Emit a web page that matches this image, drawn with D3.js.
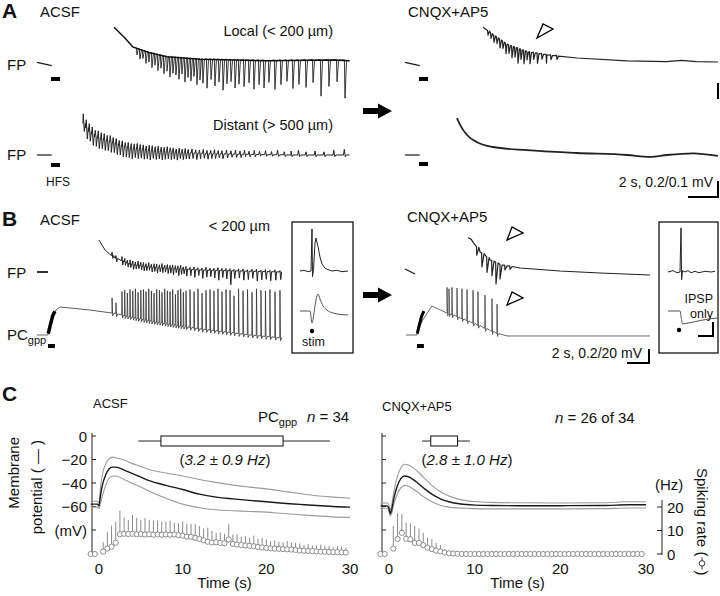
<!DOCTYPE html>
<html>
<head>
<meta charset="utf-8">
<script src="https://cdn.jsdelivr.net/npm/d3@7"></script>
<style>
  body { margin: 0; background: #fff; }
  svg text { font-family: "Liberation Sans", Arial, sans-serif; fill: #111; }
</style>
</head>
<body>
<div id="fig"></div>
<script>
// ---------- panel A : field potentials (s from HFS onset, mV re pre-HFS baseline)
var hfsDur = 0.6;
var preLocal = [[-0.93, 0.02], [0.05, -0.02]];
var preDistant = [[-0.93, 0.0], [0.05, 0.0]];

var localAcsfBase = [[4.2, 0.46], [4.93, 0.325], [5.47, 0.21], [6.6, 0.14], [7.73, 0.09], [9.93, 0.06], [14.4, 0.04], [18.8, 0.05], [19.9, 0.04]];
var localAcsfT = [5.73, 5.93, 6.13, 6.33, 6.53, 6.73, 6.93, 7.13, 7.33, 7.53, 7.73, 7.93, 8.13, 8.33, 8.53, 8.73, 8.93, 9.13, 9.33, 9.53, 9.73, 9.93, 10.13, 10.4, 10.67, 10.93, 11.2, 11.47, 11.73, 12.0, 12.27, 12.53, 12.87, 13.2, 13.53, 13.87, 14.2, 14.53, 14.93, 15.33, 15.73, 16.13, 16.53, 17.0, 17.47, 18.0, 18.53, 19.07, 19.6];
var localAcsfAmp = [0.08, 0.12, 0.1, 0.15, 0.12, 0.18, 0.14, 0.2, 0.16, 0.22, 0.18, 0.25, 0.2, 0.22, 0.27, 0.2, 0.3, 0.24, 0.28, 0.22, 0.32, 0.26, 0.3, 0.36, 0.25, 0.33, 0.28, 0.38, 0.3, 0.27, 0.35, 0.3, 0.33, 0.28, 0.36, 0.3, 0.34, 0.27, 0.36, 0.3, 0.26, 0.35, 0.3, 0.34, 0.28, 0.45, 0.33, 0.27, 0.47];

var distAcsfBase = [[2.13, 0.2], [2.5, 0.15], [3, 0.11], [4, 0.08], [5, 0.045], [6.5, 0.03], [8, 0.02], [10, 0.01], [13, 0.004], [16, 0.0], [19.9, 0.0]];
var distAcsfT = [2.15, 2.35, 2.55, 2.75, 2.95, 3.15, 3.35, 3.55, 3.75, 3.95, 4.15, 4.35, 4.55, 4.75, 4.95, 5.15, 5.35, 5.55, 5.75, 5.95, 6.15, 6.35, 6.55, 6.75, 6.95, 7.15, 7.35, 7.55, 7.75, 7.95, 8.15, 8.35, 8.55, 8.75, 8.95, 9.15, 9.4, 9.65, 9.9, 10.15, 10.4, 10.65, 10.9, 11.15, 11.4, 11.7, 12.0, 12.3, 12.6, 12.9, 13.2, 13.55, 13.9, 14.3, 14.7, 15.1, 15.55, 16.0, 16.5, 17.0, 17.6, 18.2, 18.85, 19.55];
var distAcsfUp = [0.06, 0.05, 0.05, 0.045, 0.04, 0.045, 0.04, 0.04, 0.035, 0.04, 0.035, 0.035, 0.03, 0.035, 0.03, 0.035, 0.03, 0.03, 0.035, 0.03, 0.03, 0.025, 0.03, 0.03, 0.025, 0.03, 0.025, 0.025, 0.03, 0.025, 0.025, 0.02, 0.025, 0.02, 0.025, 0.02, 0.025, 0.02, 0.02, 0.025, 0.02, 0.02, 0.025, 0.02, 0.02, 0.025, 0.02, 0.025, 0.02, 0.025, 0.02, 0.025, 0.02, 0.025, 0.02, 0.03, 0.02, 0.025, 0.03, 0.02, 0.025, 0.02, 0.03, 0.035];
var distAcsfDown = [0.05, 0.07, 0.06, 0.07, 0.06, 0.065, 0.06, 0.065, 0.06, 0.065, 0.06, 0.065, 0.06, 0.065, 0.06, 0.06, 0.065, 0.055, 0.06, 0.055, 0.06, 0.055, 0.06, 0.05, 0.055, 0.05, 0.055, 0.05, 0.045, 0.05, 0.045, 0.05, 0.04, 0.045, 0.04, 0.04, 0.035, 0.04, 0.035, 0.03, 0.035, 0.03, 0.03, 0.025, 0.03, 0.025, 0.02, 0.02, 0.02, 0.015, 0.015, 0.015, 0.01, 0.01, 0.01, 0.01, 0.01, 0.01, 0.01, 0.01, 0.01, 0.01, 0.01, 0.01];

var localCnqxBase = [[4.27, 0.46], [4.93, 0.36], [5.87, 0.24], [7.2, 0.15], [8.53, 0.11], [10.53, 0.075], [13.87, 0.04], [16.5, 0.03], [17.5, 0.045], [18.5, 0.03], [19.93, 0.025]];
var localCnqxT = [4.6, 4.8, 5.0, 5.2, 5.4, 5.6, 5.8, 6.0, 6.2, 6.4, 6.6, 6.8, 7.0, 7.2, 7.4, 7.65, 7.9, 8.2, 8.5, 8.8, 9.2];
var localCnqxAmp = [0.05, 0.06, 0.08, 0.07, 0.1, 0.08, 0.12, 0.1, 0.14, 0.12, 0.18, 0.12, 0.16, 0.1, 0.14, 0.08, 0.12, 0.06, 0.1, 0.05, 0.04];

var distCnqxBase = [[2.53, 0.23], [2.73, 0.19], [3.2, 0.125], [3.87, 0.08], [4.93, 0.05], [7.2, 0.03], [10.53, 0.0125], [13.87, 0.0], [15.4, -0.012], [16.53, 0.0], [18.27, 0.01], [19.93, -0.006]];

// ---------- panel B : FP (mV) and PCgpp (mV), s from HFS onset
var preFpB = [[-0.96, 0.0], [0.0, 0.0]];
var preFpBCnqx = [[-1.04, 0.043], [-0.17, -0.029]];
var prePc = [[-0.96, -60], [0.0, -60]];

var fpAcsfBase = [[4.43, 0.457], [4.96, 0.314], [5.83, 0.2], [7.13, 0.114], [8.87, 0.071], [13.22, 0.029], [20.35, 0.0]];
var pcAcsfBase = [[0.0, -60], [0.35, -35.7], [0.7, -24.3], [1.04, -20], [1.9, -21.4], [3.65, -24.3], [5.57, -28.6], [8.87, -40], [13.2, -51.4], [17.6, -60], [20.35, -64.3]];
var hfsBlob = [[0.02, -58], [0.2, -46], [0.4, -33], [0.6, -26]];
var pcAcsfT = [5.57, 5.91, 6.43, 6.67, 6.9, 7.13, 7.37, 7.6, 7.83, 8.07, 8.3, 8.52, 8.76, 8.99, 9.22, 9.45, 9.69, 9.91, 10.15, 10.38, 10.61, 10.84, 11.08, 11.3, 11.54, 11.77, 12.0, 12.35, 12.7, 13.04, 13.39, 13.74, 14.09, 14.43, 14.78, 15.13, 15.48, 15.83, 16.17, 16.57, 16.96, 17.35, 17.74, 18.13, 18.52, 18.91, 19.3, 19.74, 20.17];
var pcAcsfPeak = [-7, -14, 2, 4, 0, 5, 3, 6, 1, 4, 5, 2, 6, 3, 0, 5, 4, 1, 6, 3, 2, 5, -2, 4, 6, 1, 3, 5, 2, 6, 0, 4, 5, 3, 6, 2, 5, 4, -4, 6, 3, 5, 1, 6, 4, 3, 5, 2, 4];
var fpAcsfUp = [0.05, 0.04, 0.06, 0.05, 0.04, 0.06, 0.05, 0.04, 0.06, 0.05, 0.05, 0.04, 0.06, 0.04, 0.05, 0.05, 0.04, 0.06, 0.04, 0.05, 0.04, 0.05, 0.04, 0.04, 0.05, 0.03, 0.04, 0.03, 0.04, 0.03, 0.03, 0.04, 0.03, 0.03, 0.04, 0.03, 0.03, 0.03, 0.02, 0.03, 0.03, 0.02, 0.03, 0.03, 0.02, 0.03, 0.02, 0.03, 0.02];
var fpAcsfDown = [0.04, 0.05, 0.06, 0.05, 0.06, 0.05, 0.07, 0.06, 0.05, 0.06, 0.07, 0.06, 0.05, 0.07, 0.06, 0.08, 0.06, 0.07, 0.06, 0.08, 0.07, 0.09, 0.06, 0.1, 0.08, 0.07, 0.1, 0.09, 0.11, 0.08, 0.12, 0.1, 0.09, 0.11, 0.14, 0.1, 0.12, 0.2, 0.11, 0.1, 0.13, 0.12, 0.1, 0.14, 0.12, 0.11, 0.13, 0.12, 0.11];

var fpCnqxBase = [[4.43, 0.49], [4.7, 0.47], [4.9, 0.42], [5.48, 0.286], [6.35, 0.171], [7.22, 0.1], [8.96, 0.057], [12.43, 0.014], [15.91, -0.014], [20.26, -0.043]];
var fpCnqxT = [5.2, 5.65, 6.09, 6.52, 6.87, 7.22, 7.65, 8.09];
var fpCnqxAmp = [0.11, 0.19, 0.21, 0.21, 0.3, 0.2, 0.06, 0.04];
var pcCnqxBase = [[0.0, -60], [0.26, -45.7], [0.61, -35.7], [1.3, -18.6], [2.61, -28.6], [3.74, -35.7], [5.22, -45.7], [6.61, -55.7], [7.04, -58.6], [7.83, -61.4], [20.26, -61.4]];
var pcCnqxT = [2.61, 2.78, 3.04, 3.48, 3.91, 4.35, 4.87, 5.3, 5.91, 6.52, 6.96];
var pcCnqxPeak = [8, 6, 8, 7, 6, 5, 4, 2, -3, -8, -16];

// insets (ms from stim)
var insFpAcsf = [[-12, 0.0], [-8, 0.01], [-4, -0.01], [-1, 0.0], [0, 0.6], [0.5, -0.08], [1.5, 0.02], [3, 0.4], [4, 0.47], [6, 0.35], [8, 0.2], [10, 0.1], [13, 0.04], [16, 0.02], [20, 0.0], [25, 0.01], [30, -0.01], [36, 0.0]];
var insPcAcsf = [[-12, 0], [-2, 0], [0, -7], [1, -5], [3, 3], [5, 9], [6, 10], [8, 7], [11, 3], [15, 0.5], [20, -1], [28, -2], [36, -2.3]];
var insFpCnqx = [[-13, 0], [-8, 0.02], [-4, -0.01], [-1, 0], [0, 0.63], [0.6, -0.11], [1.5, 0.02], [4, 0.0], [7, 0.02], [10, -0.01], [14, 0.01], [18, -0.01], [24, 0.01], [30, 0], [34, 0.01]];
var insPcCnqx = [[-13, 0], [-1, 0], [0.5, -5], [1.5, -7.6], [4, -7.4], [10, -6.8], [20, -5.5], [30, -4.5], [36, -4.1]];

// ---------- panel C : averages (n = 34 / 26)
var cTimeAcsf = [-1, -0.2, 0, 0.15, 0.4, 0.8, 1.2, 1.6, 2.0, 3, 4, 5, 6, 8, 10, 12, 14, 16, 18, 20, 22, 24, 26, 28, 30];
var cMeanAcsf = [-58, -58, -59.5, -52, -42, -33, -28, -26.5, -26.5, -29, -32, -35, -38, -42, -45.5, -49.5, -52, -53.5, -54.8, -56, -57.2, -58.2, -59.2, -60, -60.5];
var cUpAcsf = [-55.5, -55.5, -57, -46, -33, -24, -19.5, -18, -18.5, -20.5, -23.5, -26, -28.5, -31.5, -34, -37, -39.5, -41.8, -43.5, -45, -47, -49, -50.8, -52, -53];
var cLoAcsf = [-60.5, -60.5, -62, -58, -51, -42, -36, -34, -34, -37, -40.5, -43.5, -47, -53, -58, -61, -62.8, -63.6, -64.2, -64.8, -66, -67, -68, -68.8, -69.3];

var cTimeCnqx = [-1, -0.2, 0, 0.15, 0.3, 0.6, 1.0, 1.4, 1.8, 2.2, 3, 4, 5, 6, 7, 8, 9, 10, 12, 15, 20, 25, 28, 30];
var cMeanCnqx = [-59.5, -59.5, -62, -66, -63, -52, -42, -36, -34, -34.5, -38, -44, -49.5, -53.5, -56, -57.5, -58.3, -58.8, -59.2, -59.3, -59.3, -59.2, -58.5, -58.5];
var cUpCnqx = [-57, -57, -59, -63, -59, -46, -34, -27, -24, -24.5, -28, -35, -42, -47.5, -51, -53.5, -55, -55.8, -56.5, -56.8, -57, -56.8, -56, -56];
var cLoCnqx = [-61.5, -61.5, -64, -68, -66, -57, -49, -44, -42, -42.5, -46, -51.5, -56, -59, -60.5, -61.2, -61.5, -61.8, -62, -62, -62, -61.8, -61.3, -61.3];

var rateBins = [-1, -0.5, 0.5, 1, 1.5, 2, 2.5, 3, 3.5, 4, 4.5, 5, 5.5, 6, 6.5, 7, 7.5, 8, 8.5, 9, 9.5, 10, 10.5, 11, 11.5, 12, 12.5, 13, 13.5, 14, 14.5, 15, 15.5, 16, 16.5, 17, 17.5, 18, 18.5, 19, 19.5, 20, 20.5, 21, 21.5, 22, 22.5, 23, 23.5, 24, 24.5, 25, 25.5, 26, 26.5, 27, 27.5, 28, 28.5, 29, 29.5];
var rateAcsf = [0, 0, 1.0, 2.3, 3.1, 4.8, 8.4, 8.6, 8.5, 8.6, 8.4, 8.5, 8.3, 8.4, 8.2, 8.3, 8.2, 8.3, 8.2, 8.3, 8.0, 7.8, 7.4, 7.3, 6.9, 6.4, 5.8, 5.2, 4.9, 5.0, 4.7, 4.6, 6.2, 4.3, 4.0, 3.8, 3.6, 3.5, 3.3, 3.0, 2.8, 2.6, 2.4, 2.3, 2.2, 2.1, 2.0, 1.9, 1.7, 1.5, 1.4, 1.3, 1.2, 1.1, 1.0, 1.0, 0.9, 0.8, 0.8, 0.7, 0.6];
var sdAcsf = [0, 0, 4, 7, 9, 9, 10, 7, 6, 8, 7, 6, 7, 6, 6, 6, 5.5, 5.5, 6, 5, 5, 6, 5.5, 5.5, 6, 5.5, 5, 6, 5, 4, 4.5, 4, 6.5, 4, 4.5, 3.5, 4, 3.5, 4.5, 3.5, 4, 3.5, 3, 3.5, 3, 3, 3.5, 3, 3, 3, 2.5, 3, 2.5, 2.5, 3, 2.5, 2.5, 2, 2.5, 2.5, 2];
var rateCnqx = [0, 0, 2.3, 6.4, 9.0, 6.5, 6.3, 4.7, 4.7, 3.8, 2.7, 2.1, 1.4, 1.1, 0.6, 0.3, 0.2, 0.1, 0, 0, 0, 0, 0, 0, 0, 0, 0, 0, 0, 0, 0, 0, 0, 0, 0, 0, 0, 0, 0, 0, 0, 0, 0, 0, 0, 0, 0, 0, 0, 0, 0, 0, 0, 0, 0, 0, 0, 0, 0, 0, 0];
var sdCnqx = [0, 0, 9.7, 11, 8, 6.8, 6.7, 7.3, 6.2, 5.2, 4.2, 4.3, 3.3, 2.7, 1.4, 1.1, 0.5, 0.3, 0, 0, 0, 0, 0, 0, 0, 0, 0, 0, 0, 0, 0, 0, 0, 0, 0, 0, 0, 0, 0, 0, 0, 0, 0, 0, 0, 0, 0, 0, 0, 0, 0, 0, 0, 0, 0, 0, 0, 0, 0, 0, 0];

// spiking-frequency box plots: [whisker lo, q1, q3, whisker hi] in s
var boxAcsf = [4.7, 7.4, 22.0, 27.6];
var boxCnqx = [3.85, 4.87, 8.0, 9.45];
var mvTicks = [0, -20, -40, -60];
var hzTicks = [0, 10, 20];
var timeTicks = [0, 10, 20, 30];

// ================= drawing =================
var W = 720, H = 596;
var svg = d3.select("#fig").append("svg").attr("width", W).attr("height", H);
svg.append("rect").attr("width", W).attr("height", H).attr("fill", "#fff");

function baseAt(base) {
	return d3.scaleLinear().domain(base.map(function(d) { return d[0]; }))
		.range(base.map(function(d) { return d[1]; })).clamp(true);
}
// merge baseline points with event shapes, sorted in time
function buildTrace(base, events, shape) {
	var f = baseAt(base), pts = base.slice();
	events.forEach(function(e) {
		shape(e, f(e[0])).forEach(function(p) { pts.push(p); });
	});
	pts.sort(function(a, b) { return a[0] - b[0]; });
	return pts;
}
function downSpike(w1, w2) {
	return function(e, b) { return [[e[0] - w1, b + 0.01], [e[0], b - e[1]], [e[0] + w2, b]]; };
}
function oscEvent(e, b) {
	return [[e[0] - 0.05, b], [e[0], b + e[1]], [e[0] + 0.07, b - e[2]], [e[0] + 0.14, b]];
}
function apSpike(e, b) {
	return [[e[0] - 0.02, b], [e[0], e[1]], [e[0] + 0.05, b - 4], [e[0] + 0.17, b]];
}
function drawLine(g, pts, x, y, opts) {
	opts = opts || {};
	g.append("path")
		.attr("d", d3.line().x(function(d) { return x(d[0]); }).y(function(d) { return y(d[1]); })
			.curve(opts.curve || d3.curveLinear)(pts))
		.attr("fill", "none")
		.attr("stroke", opts.color || "#1a1a1a")
		.attr("stroke-width", opts.width || 1)
		.attr("stroke-linejoin", "round");
}
function label(g, x, y, txt, size, anchor, weight) {
	return g.append("text").attr("x", x).attr("y", y).text(txt)
		.attr("font-size", size).attr("text-anchor", anchor || "start")
		.attr("font-weight", weight || "normal");
}
function hfsBar(g, x, yy) {
	g.append("rect").attr("x", x(0)).attr("y", yy - 2).attr("width", x(hfsDur) - x(0)).attr("height", 4).attr("fill", "#000");
}
function bigArrow(g, cx, cy) {
	g.append("path").attr("d", "M" + (cx - 14) + "," + (cy - 3) + "H" + (cx + 1) + "V" + (cy - 7.5) + "L" + (cx + 15) + "," + cy +
		"L" + (cx + 1) + "," + (cy + 7.5) + "V" + (cy + 3) + "H" + (cx - 14) + "Z").attr("fill", "#000");
}
function openHead(g, pts) {
	g.append("polygon").attr("points", pts.map(function(p) { return p.join(","); }).join(" "))
		.attr("fill", "#fff").attr("stroke", "#000").attr("stroke-width", 1.3);
}
function scaleL(g, x0, x1, y0, y1) {
	g.append("path").attr("d", "M" + x0 + "," + y1 + "H" + x1 + "V" + y0)
		.attr("fill", "none").attr("stroke", "#000").attr("stroke-width", 2);
}

// ---------- A
var gA = svg.append("g");
var xAL = d3.scaleLinear().domain([0, 20]).range([51, 351]);
var xAR = d3.scaleLinear().domain([0, 20]).range([419, 719]);
var yLoc = d3.scaleLinear().domain([0, 0.5]).range([64, 24]);
var yDist = d3.scaleLinear().domain([0, 0.25]).range([155, 115]);

label(gA, 2, 18, "A", 21, "start", "bold");
label(gA, 40, 17, "ACSF", 15);
label(gA, 408, 17, "CNQX+AP5", 15);
label(gA, 333, 36, "Local (< 200 µm)", 14.5, "end");
label(gA, 333, 130, "Distant (> 500 µm)", 14.5, "end");
label(gA, 7, 70, "FP", 15);
label(gA, 7, 160, "FP", 15);
label(gA, 46, 186, "HFS", 12);

drawLine(gA, preLocal, xAL, yLoc, {width: 1.2});
drawLine(gA, preDistant, xAL, yDist, {width: 1.2});
hfsBar(gA, xAL, 79);
hfsBar(gA, xAL, 165);
drawLine(gA, buildTrace(localAcsfBase, d3.zip(localAcsfT, localAcsfAmp), downSpike(0.04, 0.1)), xAL, yLoc, {width: 0.9, color: "#222"});
drawLine(gA, localAcsfBase, xAL, yLoc, {width: 1.4, color: "#111"});
drawLine(gA, buildTrace(distAcsfBase, d3.zip(distAcsfT, distAcsfUp, distAcsfDown), oscEvent), xAL, yDist, {width: 1, color: "#222"});

drawLine(gA, preLocal, xAR, yLoc, {width: 1.2});
drawLine(gA, preDistant, xAR, yDist, {width: 1.2});
hfsBar(gA, xAR, 79);
hfsBar(gA, xAR, 164);
drawLine(gA, buildTrace(localCnqxBase, d3.zip(localCnqxT, localCnqxAmp), downSpike(0.03, 0.1)), xAR, yLoc, {width: 1.2, color: "#222"});
drawLine(gA, distCnqxBase, xAR, yDist, {width: 1.8, color: "#222", curve: d3.curveMonotoneX});

bigArrow(gA, 377, 111);
openHead(gA, [[537, 38], [543, 24], [553, 29]]);
gA.append("line").attr("x1", 718).attr("x2", 718).attr("y1", 83).attr("y2", 99).attr("stroke", "#000").attr("stroke-width", 2);
label(gA, 713, 187, "2 s, 0.2/0.1 mV", 14, "end");
scaleL(gA, 688, 718, 181, 197);

// ---------- B
var gB = svg.append("g");
var xBL = d3.scaleLinear().domain([0, 20]).range([48, 278]);
var xBR = d3.scaleLinear().domain([0, 20]).range([417, 647]);
var yFpB = d3.scaleLinear().domain([0, 0.5]).range([272, 237]);
var yPc = d3.scaleLinear().domain([-60, 0]).range([335, 293]);

label(gB, 2, 226, "B", 21, "start", "bold");
label(gB, 40, 225, "ACSF", 15);
label(gB, 270, 231, "< 200 µm", 14.5, "end");
label(gB, 7, 278, "FP", 15);
var pcLab = label(gB, 7, 340, "PC", 15);
pcLab.append("tspan").attr("font-size", 11).attr("dy", 4).text("gpp");
label(gB, 407, 222, "CNQX+AP5", 15);

drawLine(gB, preFpB, xBL, yFpB, {width: 1.8});
drawLine(gB, prePc, xBL, yPc, {width: 0.9, color: "#555"});
hfsBar(gB, xBL, 346);
drawLine(gB, buildTrace(fpAcsfBase, d3.zip(pcAcsfT, fpAcsfUp, fpAcsfDown), oscEvent), xBL, yFpB, {width: 1, color: "#222"});
drawLine(gB, buildTrace(pcAcsfBase, d3.zip(pcAcsfT, pcAcsfPeak), apSpike), xBL, yPc, {width: 0.8, color: "#333"});
drawLine(gB, hfsBlob, xBL, yPc, {width: 3.5, color: "#000"});

drawLine(gB, preFpBCnqx, xBR, yFpB, {width: 1.2});
drawLine(gB, prePc, xBR, yPc, {width: 0.9, color: "#555"});
hfsBar(gB, xBR, 346);
drawLine(gB, buildTrace(fpCnqxBase, d3.zip(fpCnqxT, fpCnqxAmp), downSpike(0.03, 0.18)), xBR, yFpB, {width: 1.2, color: "#222"});
drawLine(gB, buildTrace(pcCnqxBase, d3.zip(pcCnqxT, pcCnqxPeak), apSpike), xBR, yPc, {width: 0.8, color: "#444"});
drawLine(gB, hfsBlob, xBR, yPc, {width: 3, color: "#000"});

bigArrow(gB, 377, 295);
openHead(gB, [[507, 240], [512, 227], [523, 233]]);
openHead(gB, [[507, 305], [512, 292], [523, 298]]);
label(gB, 642, 358, "2 s, 0.2/20 mV", 14, "end");
scaleL(gB, 627, 649, 349, 363);

// insets
var xInL = d3.scaleLinear().domain([0, 10]).range([312, 322]);
var xInR = d3.scaleLinear().domain([0, 10]).range([681, 691]);
var yInFpL = d3.scaleLinear().domain([0, 0.5]).range([271, 236]);
var yInFpR = d3.scaleLinear().domain([0, 0.5]).range([272, 237]);
var yInPc = d3.scaleLinear().domain([0, 10]).range([311, 294]);
gB.append("rect").attr("x", 292).attr("y", 222).attr("width", 61).attr("height", 131).attr("fill", "none").attr("stroke", "#000").attr("stroke-width", 1.2);
gB.append("rect").attr("x", 659).attr("y", 222).attr("width", 59).attr("height", 131).attr("fill", "none").attr("stroke", "#000").attr("stroke-width", 1.2);
drawLine(gB, insFpAcsf, xInL, yInFpL, {width: 1, color: "#222"});
drawLine(gB, insPcAcsf, xInL, yInPc, {width: 1, color: "#555", curve: d3.curveMonotoneX});
drawLine(gB, insFpCnqx, xInR, yInFpR, {width: 1, color: "#222"});
drawLine(gB, insPcCnqx, xInR, yInPc, {width: 1, color: "#555", curve: d3.curveMonotoneX});
gB.append("circle").attr("cx", xInL(0)).attr("cy", 331).attr("r", 2.2).attr("fill", "#000");
gB.append("circle").attr("cx", xInR(-2)).attr("cy", 330).attr("r", 2.2).attr("fill", "#000");
label(gB, 302, 346, "stim", 12.5);
label(gB, 713, 303, "IPSP", 12.5, "end");
label(gB, 713, 318, "only", 12.5, "end");
scaleL(gB, 698, 713, 322, 336);

// ---------- C
var gC = svg.append("g");
var yMv = d3.scaleLinear().domain([0, -80]).range([436, 530]);
var yHz = d3.scaleLinear().domain([0, 20]).range([554, 507]);
var xCL = d3.scaleLinear().domain([0, 30]).range([99, 350]);
var xCR = d3.scaleLinear().domain([0, 30]).range([389, 646]);

label(gC, 2, 401, "C", 21, "start", "bold");
label(gC, 93, 408, "ACSF", 13);
label(gC, 382, 411, "CNQX+AP5", 13);
var pcC = label(gC, 258, 422, "PC", 15);
pcC.append("tspan").attr("font-size", 11).attr("dy", 4).text("gpp");
var nL = label(gC, 307, 422, "", 15);
nL.append("tspan").attr("font-style", "italic").text("n");
nL.append("tspan").text(" = 34");
var nR = label(gC, 555, 423, "", 15);
nR.append("tspan").attr("font-style", "italic").text("n");
nR.append("tspan").text(" = 26 of 34");

function cPanel(g, x, tArr, mean, up, lo, rate, sd, box, boxTxt, labels) {
	// y axis (membrane potential)
	var ax = g.append("g").attr("transform", "translate(" + (x.range()[0] - 7) + ",0)");
	ax.append("line").attr("y1", 433).attr("y2", 553).attr("stroke", "#222").attr("stroke-width", 1);
	ax.selectAll(".tk").data(mvTicks.concat([-80])).enter().append("line")
		.attr("x1", 0).attr("x2", 4).attr("y1", function(d) { return yMv(d); }).attr("y2", function(d) { return yMv(d); })
		.attr("stroke", "#222");
	if (labels) {
		ax.selectAll(".tl").data(mvTicks).enter().append("text")
			.attr("x", -5).attr("y", function(d) { return yMv(d) + 5.5; })
			.attr("text-anchor", "end").attr("font-size", 15)
			.text(function(d) { return d3.format("d")(d); });
		label(ax, -5, yMv(-80) + 5.5, "(mV)", 15, "end");
	}
	g.selectAll(".xt").data(timeTicks).enter().append("text")
		.attr("x", function(d) { return x(d); }).attr("y", 574).attr("text-anchor", "middle").attr("font-size", 15)
		.text(function(d) { return d; });
	label(g, (x(0) + x(30)) / 2, 588, "Time (s)", 15, "middle");

	var sdPts = function(arr) { return d3.zip(tArr, arr); };
	drawLine(g, sdPts(up), x, yMv, {width: 1.1, color: "#9a9a9a", curve: d3.curveMonotoneX});
	drawLine(g, sdPts(lo), x, yMv, {width: 1.1, color: "#9a9a9a", curve: d3.curveMonotoneX});
	drawLine(g, sdPts(mean), x, yMv, {width: 1.4, color: "#1a1a1a", curve: d3.curveMonotoneX});

	var rows = d3.zip(rateBins, rate, sd);
	g.selectAll(".eb").data(rows).enter().append("line")
		.attr("x1", function(d) { return x(d[0]); }).attr("x2", function(d) { return x(d[0]); })
		.attr("y1", function(d) { return yHz(d[1]); }).attr("y2", function(d) { return yHz(d[1] + d[2]); })
		.attr("stroke", "#8a8a8a").attr("stroke-width", 1);
	g.selectAll(".pt").data(rows).enter().append("circle")
		.attr("cx", function(d) { return x(d[0]); }).attr("cy", function(d) { return yHz(d[1]); })
		.attr("r", 2.6).attr("fill", "#fff").attr("stroke", "#808080").attr("stroke-width", 0.9);

	// box plot of spiking duration
	var by = 441;
	g.append("line").attr("x1", x(box[0])).attr("x2", x(box[3])).attr("y1", by).attr("y2", by).attr("stroke", "#222");
	g.append("rect").attr("x", x(box[1])).attr("y", by - 5).attr("width", x(box[2]) - x(box[1])).attr("height", 10)
		.attr("fill", "#fff").attr("stroke", "#222").attr("stroke-width", 1.1);
	var t = label(g, boxTxt[0], 465, "", 15, "middle");
	t.append("tspan").text("(");
	t.append("tspan").attr("font-style", "italic").text(boxTxt[1]);
	t.append("tspan").text(")");
}
cPanel(gC, xCL, cTimeAcsf, cMeanAcsf, cUpAcsf, cLoAcsf, rateAcsf, sdAcsf, boxAcsf, [225, "3.2 ± 0.9 Hz"], true);
cPanel(gC, xCR, cTimeCnqx, cMeanCnqx, cUpCnqx, cLoCnqx, rateCnqx, sdCnqx, boxCnqx, [467, "2.8 ± 1.0 Hz"], false);

// right axis : spiking rate
var axR = gC.append("g").attr("transform", "translate(662,0)");
axR.append("line").attr("y1", 500).attr("y2", 555).attr("stroke", "#222");
axR.selectAll(".tk").data(hzTicks).enter().append("line")
	.attr("x1", -5).attr("x2", 0).attr("y1", function(d) { return yHz(d); }).attr("y2", function(d) { return yHz(d); })
	.attr("stroke", "#222");
axR.selectAll(".tl").data(hzTicks).enter().append("text")
	.attr("x", 5).attr("y", function(d) { return yHz(d) + 5.5; }).attr("font-size", 15)
	.text(function(d) { return d; });
label(gC, 655, 490, "(Hz)", 15);

// rotated axis titles
var yl = gC.append("g").attr("transform", "translate(19,437) rotate(-90)");
label(yl, 0, 0, "Membrane", 15, "end");
var yl2 = gC.append("g").attr("transform", "translate(42,440) rotate(-90)");
label(yl2, 0, 0, "potential ( — )", 15, "end");

var sl = gC.append("g").attr("transform", "translate(697,468) rotate(90)");
var st = label(sl, 0, 0, "Spiking rate (", 15);
var w = st.node().getComputedTextLength();
sl.append("line").attr("x1", w + 1).attr("x2", w + 13).attr("y1", -5).attr("y2", -5).attr("stroke", "#333");
sl.append("circle").attr("cx", w + 7).attr("cy", -5).attr("r", 2.8).attr("fill", "#fff").attr("stroke", "#333");
label(sl, w + 14, 0, ")", 15);
</script>
</body>
</html>
